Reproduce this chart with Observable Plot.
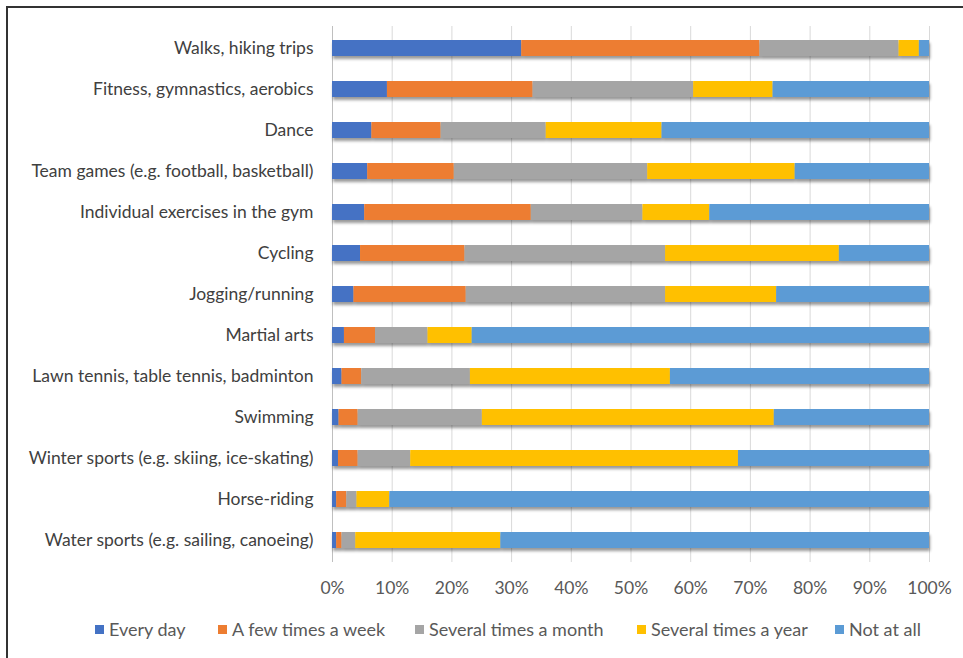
<!DOCTYPE html>
<html>
<head>
<meta charset="utf-8">
<script src="https://cdn.jsdelivr.net/npm/d3@7"></script>
<script src="https://cdn.jsdelivr.net/npm/@observablehq/plot@0.6"></script>
<style>
  html, body { margin: 0; padding: 0; background: #fff; }
  #wrap { position: relative; width: 963px; height: 658px; overflow: hidden; font-family: Lato, "Open Sans", sans-serif; }
  #bl { position: absolute; left: 6px; top: 6px; width: 2px; height: 660px; background: #333; }
  #bt { position: absolute; left: 6px; top: 6px; width: 960px; height: 2px; background: #333; }
  #chart { position: absolute; left: 0; top: 0; }
  #legend { position: absolute; left: 0; top: 618px; width: 963px; font-size: 18px; color: #595959; }
  .item { position: absolute; display: flex; align-items: center; white-space: nowrap; }
  .sw { width: 9px; height: 9px; margin-right: 5px; }
</style>
</head>
<body>
<div id="wrap">
  <div id="chart"></div>
  <div id="legend"></div>
  <div id="bl"></div>
  <div id="bt"></div>
</div>
<script>
const categories = [
  "Walks, hiking trips",
  "Fitness, gymnastics, aerobics",
  "Dance",
  "Team games (e.g. football, basketball)",
  "Individual exercises in the gym",
  "Cycling",
  "Jogging/running",
  "Martial arts",
  "Lawn tennis, table tennis, badminton",
  "Swimming",
  "Winter sports (e.g. skiing, ice-skating)",
  "Horse-riding",
  "Water sports (e.g. sailing, canoeing)"
];
const seriesNames = ["Every day", "A few times a week", "Several times a month", "Several times a year", "Not at all"];
const seriesColors = ["#4472C4", "#ED7D31", "#A5A5A5", "#FFC000", "#5B9BD5"];

const everyDay       = [31.7,  9.2,  6.6,  5.9,  5.4,  4.7,  3.6,  2.0,  1.6,  1.1,  1.0,  0.7,  0.7];
const fewTimesWeek   = [39.9, 24.4, 11.6, 14.5, 27.9, 17.5, 18.8,  5.2,  3.3,  3.2,  3.3,  1.7,  0.9];
const severalMonth   = [23.3, 26.9, 17.6, 32.4, 18.7, 33.6, 33.4,  8.8, 18.2, 20.8,  8.8,  1.7,  2.3];
const severalYear    = [ 3.4, 13.3, 19.4, 24.7, 11.2, 29.1, 18.6,  7.4, 33.5, 48.9, 54.9,  5.5, 24.3];
const notAtAll       = [ 1.7, 26.2, 44.8, 22.5, 36.8, 15.1, 25.6, 76.6, 43.4, 26.0, 32.0, 90.4, 71.8];
const xTicks = [0, 10, 20, 30, 40, 50, 60, 70, 80, 90, 100];

const seriesValues = [everyDay, fewTimesWeek, severalMonth, severalYear, notAtAll];
const data = [];
categories.forEach((c, i) => {
  seriesNames.forEach((s, j) => data.push({category: c, series: s, value: seriesValues[j][i]}));
});

const chart = Plot.plot({
  width: 963,
  height: 610,
  marginLeft: 332,
  marginRight: 34,
  marginTop: 26,
  marginBottom: 48,
  style: {fontFamily: "Lato, 'Open Sans', sans-serif", fontSize: "17.5px", color: "#404040", background: "transparent"},
  x: {domain: [0, 100], ticks: xTicks, tickFormat: d => d + "%", label: null},
  y: {domain: categories, paddingInner: 0.61, paddingOuter: 0.315, label: null},
  color: {domain: seriesNames, range: seriesColors},
  marks: [
    Plot.gridX(xTicks, {stroke: "#d9d9d9", strokeOpacity: 1, strokeWidth: 1}),
    Plot.ruleX([0], {stroke: "#bfbfbf", strokeWidth: 1}),
    Plot.barX(data, Plot.stackX({x: "value", y: "category", fill: "series", order: seriesNames, inset: 0, className: "bars"})),
    Plot.axisX({ticks: xTicks, tickFormat: d => d + "%", tickSize: 0, tickPadding: 19, fill: "#595959", fontSize: 17.5, label: null}),
    Plot.axisY({tickSize: 0, tickPadding: 19, fill: "#404040", fontSize: 17.5, label: null})
  ]
});

// soft drop shadow under bars, as in the original
const svgNS = "http://www.w3.org/2000/svg";
const defs = document.createElementNS(svgNS, "defs");
defs.innerHTML = '<filter id="shadow" x="-5%" y="-50%" width="110%" height="220%"><feDropShadow dx="1" dy="3" stdDeviation="1.8" flood-color="#000" flood-opacity="0.4"/></filter>';
chart.insertBefore(defs, chart.firstChild);
const barsG = chart.querySelector("g.bars") || chart.querySelector("g[aria-label='bar']");
if (barsG) barsG.setAttribute("filter", "url(#shadow)");

document.getElementById("chart").appendChild(chart);

// legend
const legendPos = [95, 218, 415, 637, 835];
const legend = document.getElementById("legend");
seriesNames.forEach((s, i) => {
  const it = document.createElement("div");
  it.className = "item";
  it.style.left = legendPos[i] + "px";
  const sw = document.createElement("span");
  sw.className = "sw";
  sw.style.background = seriesColors[i];
  const t = document.createElement("span");
  t.textContent = s;
  it.appendChild(sw);
  it.appendChild(t);
  legend.appendChild(it);
});
</script>
</body>
</html>
